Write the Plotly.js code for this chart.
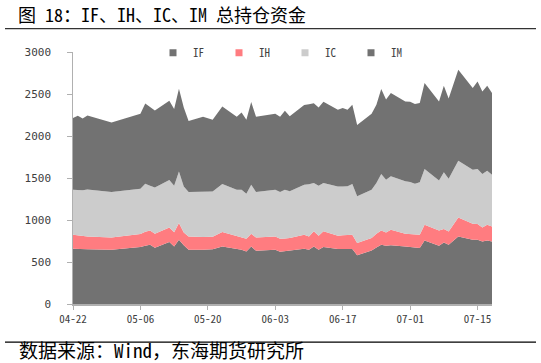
<!DOCTYPE html>
<html>
<head>
<meta charset="utf-8">
<script src="https://cdn.plot.ly/plotly-3.0.1.min.js"></script>
<style>
html,body{margin:0;padding:0;background:#fff;}
#chart{width:541px;height:363px;}
</style>
</head>
<body>
<div id="chart"></div>
<script>
// Dates of the data points (2024)
var dates = [
 "2024-04-22","2024-04-23","2024-04-24","2024-04-25","2024-04-30",
 "2024-05-06","2024-05-07","2024-05-08","2024-05-09","2024-05-12",
 "2024-05-13","2024-05-14","2024-05-15","2024-05-16","2024-05-19",
 "2024-05-21","2024-05-23","2024-05-26","2024-05-27","2024-05-28",
 "2024-05-29","2024-05-30","2024-06-03","2024-06-04","2024-06-05",
 "2024-06-06","2024-06-09","2024-06-10","2024-06-11","2024-06-12",
 "2024-06-13","2024-06-16","2024-06-17","2024-06-18","2024-06-19",
 "2024-06-20","2024-06-23","2024-06-24","2024-06-25","2024-06-26",
 "2024-06-27","2024-06-30","2024-07-01","2024-07-02","2024-07-03",
 "2024-07-04","2024-07-07","2024-07-08","2024-07-09","2024-07-11",
 "2024-07-14","2024-07-15","2024-07-16","2024-07-17","2024-07-18"
];
var IF = [658,658,655,652,646,679,694,706,670,738,686,765,700,646,646,652,686,658,646,626,686,635,646,623,629,635,658,646,686,646,679,655,655,655,655,579,638,674,706,694,698,686,680,674,667,757,694,733,706,805,765,765,745,757,745];
var IH = [167,161,150,151,146,155,167,170,167,174,167,199,152,158,151,149,171,146,149,151,151,158,158,155,152,151,167,158,179,167,186,158,162,164,170,148,148,163,170,158,187,151,154,155,158,187,182,160,158,226,190,187,167,187,179];
var IC = [536,536,548,561,540,539,571,532,551,564,556,614,548,529,543,539,571,556,565,536,583,540,556,556,580,555,595,621,576,595,576,587,583,583,604,555,575,604,671,627,635,623,617,604,623,663,595,674,627,675,643,655,636,643,615];
var IM = [854,887,854,881,829,893,956,940,917,944,913,985,940,845,889,854,924,869,920,881,985,896,905,896,940,893,949,952,948,932,968,913,933,911,944,850,905,932,1012,956,993,952,958,949,945,1024,940,1032,956,1083,973,1043,983,1012,973];

var seriesNames = ["IF","IH","IC","IM"];
var seriesColors = ["#727272","#FF7C80","#CCCCCC","#727272"];
var tickVals = ["2024-04-22","2024-05-06","2024-05-20","2024-06-03","2024-06-17","2024-07-01","2024-07-15"];
var tickText = ["04-22","05-06","05-20","06-03","06-17","07-01","07-15"];
var titleText = "图 18：IF、IH、IC、IM 总持仓资金";
var sourceText = "数据来源：Wind，东海期货研究所";

var values = [IF, IH, IC, IM];
var traces = [];
for (var i = 0; i < 4; i++) {
  traces.push({
    type: "scatter", mode: "lines", x: dates, y: values[i],
    stackgroup: "one", name: seriesNames[i],
    line: {width: 0, color: seriesColors[i]},
    fillcolor: seriesColors[i], showlegend: false, hoverinfo: "skip"
  });
}
for (var j = 0; j < 4; j++) {
  traces.push({
    type: "scatter", mode: "markers", x: [null], y: [null],
    name: seriesNames[j],
    marker: {symbol: "square", size: 7, color: seriesColors[j]},
    showlegend: true
  });
}

var monoFont = "'Noto Sans Mono CJK SC', 'DejaVu Sans Mono', 'Noto Sans CJK SC', monospace";
var axisColor = "#B0B0B0";

var layout = {
  width: 541, height: 363,
  margin: {l: 73, r: 49, t: 52, b: 59},
  paper_bgcolor: "#ffffff", plot_bgcolor: "#ffffff",
  title: {
    text: titleText, x: 18/541, xanchor: "left", xref: "container",
    y: 1 - 16/363, yanchor: "middle", yref: "container",
    font: {family: monoFont, size: 18, color: "#000000"}
  },
  xaxis: {
    type: "date", range: ["2024-04-22", "2024-07-18"],
    tickvals: tickVals, ticktext: tickText,
    showgrid: false, zeroline: false,
    showline: true, linecolor: axisColor, linewidth: 2,
    ticks: "outside", ticklen: 4, tickcolor: axisColor, tickwidth: 1,
    tickfont: {family: monoFont, size: 11, color: "#404040"}
  },
  yaxis: {
    range: [0, 3000], dtick: 500, tick0: 0,
    showgrid: false, zeroline: false,
    showline: true, linecolor: axisColor, linewidth: 1.5,
    ticks: "outside", ticklen: 5, tickcolor: axisColor, tickwidth: 1,
    ticksuffix: "\u2007\u2007",
    tickfont: {family: "'DejaVu Sans Mono', monospace", size: 11, color: "#404040"}
  },
  showlegend: true,
  legend: {
    orientation: "h", x: (153-73)/419, xanchor: "left",
    y: 1.055, yanchor: "top", bgcolor: "rgba(0,0,0,0)",
    entrywidth: 21, entrywidthmode: "pixels",
    font: {family: monoFont, size: 11, color: "#404040"},
    traceorder: "normal"
  },
  shapes: [
    {type: "line", xref: "paper", yref: "paper", x0: (5-73)/419, x1: (536-73)/419,
     y0: (304.3-29)/252, y1: (304.3-29)/252, line: {color: "#333333", width: 1.2}},
    {type: "line", xref: "paper", yref: "paper", x0: (5-73)/419, x1: (536-73)/419,
     y0: (304.3-342.5)/252, y1: (304.3-342.5)/252, line: {color: "#000000", width: 1.2}}
  ],
  annotations: [
    {text: sourceText, xref: "paper", yref: "paper", x: (17-73)/419, xanchor: "left",
     y: (304.3-350)/252, yanchor: "middle", showarrow: false,
     font: {family: monoFont, size: 19, color: "#000000"}}
  ]
};

Plotly.newPlot("chart", traces, layout, {displayModeBar: false, staticPlot: true});
</script>
</body>
</html>
